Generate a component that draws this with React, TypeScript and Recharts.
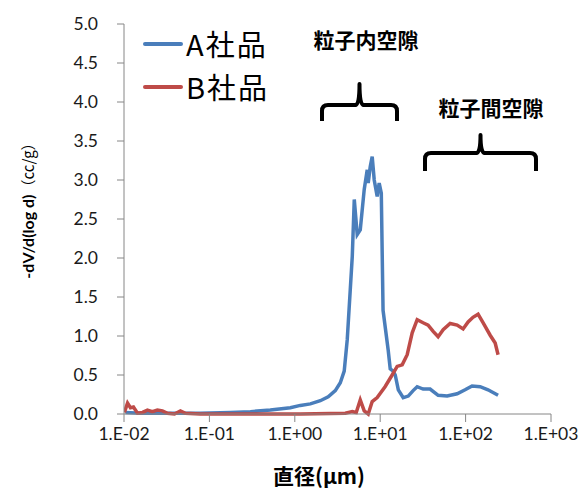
import { LineChart, Line, XAxis, YAxis, Legend } from 'recharts';

// pore size distribution, diameter in µm
const aDiameter = [0.0104, 0.0156, 0.035, 0.0785, 0.176, 0.302, 0.517, 0.886, 1.16, 1.52, 1.99, 2.46, 2.98, 3.41, 3.79, 4.11, 4.46, 4.71, 4.97, 5.38, 5.84, 6.5, 7.05, 7.24, 7.64, 8.06, 8.51, 9.22, 9.73, 10.3, 10.8, 12.4, 13.1, 14.2, 15.0, 16.3, 18.6, 21.3, 24.3, 27.1, 31.8, 38.4, 47.7, 60.8, 79.6, 98.7, 119, 148, 183, 240];
const aValue = [0.02, 0.01, 0.01, 0.01, 0.02, 0.03, 0.05, 0.08, 0.11, 0.13, 0.17, 0.22, 0.3, 0.4, 0.55, 0.95, 1.59, 2.02, 2.75, 2.3, 2.36, 2.88, 3.13, 2.96, 3.17, 3.3, 3.0, 2.79, 2.96, 2.83, 1.33, 0.82, 0.58, 0.55, 0.5, 0.31, 0.21, 0.23, 0.3, 0.35, 0.32, 0.32, 0.24, 0.23, 0.26, 0.31, 0.36, 0.35, 0.31, 0.24];

const bDiameter = [0.0101, 0.011, 0.0119, 0.0129, 0.0144, 0.0165, 0.0188, 0.0215, 0.0246, 0.0282, 0.0323, 0.039, 0.0458, 0.0524, 0.0785, 0.302, 1.16, 3.9, 4.71, 5.24, 5.84, 6.5, 7.24, 8.06, 9.22, 11.4, 13.8, 15.8, 18.1, 20.7, 23.7, 27.1, 31.8, 36.4, 41.7, 47.7, 54.6, 65.9, 79.6, 93.5, 107, 122, 140, 160, 194, 222, 240];
const bValue = [0.02, 0.14, 0.08, 0.09, 0.01, 0.02, 0.05, 0.03, 0.05, 0.04, 0.01, 0.0, 0.04, 0.01, 0.0, 0.0, 0.0, 0.01, 0.03, 0.02, 0.18, 0.04, 0.0, 0.16, 0.21, 0.35, 0.5, 0.61, 0.63, 0.76, 1.04, 1.21, 1.17, 1.14, 1.06, 0.99, 1.08, 1.16, 1.14, 1.09, 1.18, 1.24, 1.28, 1.17, 1.01, 0.91, 0.76];

const xTicks = [0.01, 0.1, 1, 10, 100, 1000];
const yTicks = [0, 0.5, 1, 1.5, 2, 2.5, 3, 3.5, 4, 4.5, 5];

const seriesA = aDiameter.map((d, i) => ({ d, v: aValue[i] }));
const seriesB = bDiameter.map((d, i) => ({ d, v: bValue[i] }));

const BLUE = '#4a7ebb';
const RED = '#be4b48';
const AXIS = '#868686';
const TICK_FONT = 'Lato, "Liberation Sans", sans-serif';
const JP_FONT = '"Noto Sans CJK JP", "Noto Sans", sans-serif';

const formatExp = (v: number) => {
  const e = Math.round(Math.log10(v));
  const s = String(Math.abs(e)).padStart(2, '0');
  return `1.E${e < 0 ? '-' : '+'}${s}`;
};

function LegendBox({ payload }: any) {
  return (
    <div>
      {(payload ?? []).map((p: any) => (
        <div key={p.value} style={{ display: 'flex', alignItems: 'center', height: 43 }}>
          <svg width={40} height={10}>
            <line x1={2} y1={5} x2={38} y2={5} stroke={p.color} strokeWidth={4} strokeLinecap="round" />
          </svg>
          <span style={{ fontFamily: JP_FONT, fontSize: 29, letterSpacing: 2, color: '#000', marginLeft: 3, lineHeight: 1 }}>{p.value}</span>
        </div>
      ))}
    </div>
  );
}

// brace: horizontal bar with a spike up in the middle and ends bent down
function Brace({ x1, x2, y, spike, drop }: { x1: number; x2: number; y: number; spike: number; drop: number }) {
  const mid = (x1 + x2) / 2;
  const r = 6;
  const d = `M${x1},${y + drop} L${x1},${y + r} Q${x1},${y} ${x1 + r},${y} L${mid - 4},${y} Q${mid},${y} ${mid},${y - spike} Q${mid},${y} ${mid + 4},${y} L${x2 - r},${y} Q${x2},${y} ${x2},${y + r} L${x2},${y + drop}`;
  return <path d={d} fill="none" stroke="#000" strokeWidth={4} strokeLinejoin="round" />;
}

export default function App() {
  return (
    <div style={{ position: 'fixed', left: 0, top: 0, width: 584, height: 489, background: '#fff' }}>
      <LineChart width={584} height={489} margin={{ top: 24, right: 33, left: 0, bottom: 0 }}>
        <XAxis
          type="number"
          dataKey="d"
          scale="log"
          domain={[0.01, 1000]}
          ticks={xTicks}
          allowDataOverflow
          height={75}
          tickFormatter={formatExp}
          stroke={AXIS}
          tickSize={8}
          tickMargin={6}
          tick={{ fill: '#1a1a1a', fontSize: 17.5, fontFamily: TICK_FONT }}
        />
        <YAxis
          type="number"
          domain={[0, 5]}
          ticks={yTicks}
          width={124}
          tickFormatter={(v: number) => v.toFixed(1)}
          stroke={AXIS}
          tickSize={7}
          tickMargin={19}
          tick={{ fill: '#1a1a1a', fontSize: 17.5, fontFamily: TICK_FONT }}
        />
        <Legend
          verticalAlign="middle"
          align="center"
          layout="vertical"
          content={<LegendBox />}
          wrapperStyle={{ position: 'absolute', left: 143, top: 22, width: 220 }}
        />
        <Line data={seriesA} dataKey="v" name="A社品" stroke={BLUE} strokeWidth={3.5} dot={false} isAnimationActive={false} />
        <Line data={seriesB} dataKey="v" name="B社品" stroke={RED} strokeWidth={3.5} dot={false} isAnimationActive={false} />

        <text x={366} y={48} textAnchor="middle" fontFamily={JP_FONT} fontSize={21} fontWeight="bold" fill="#000">粒子内空隙</text>
        <Brace x1={322} x2={397} y={105} spike={21} drop={16} />
        <text x={491} y={116} textAnchor="middle" fontFamily={JP_FONT} fontSize={21} fontWeight="bold" fill="#000">粒子間空隙</text>
        <Brace x1={425} x2={536} y={153} spike={18} drop={18} />

        <text x={319} y={484} textAnchor="middle" fontFamily={JP_FONT} fontSize={21} fontWeight="bold" fill="#000">直径(μm)</text>
        <text transform="translate(34,207) rotate(-90)" textAnchor="middle" fill="#000">
          <tspan fontFamily={TICK_FONT} fontSize={16} fontWeight="bold">-dV/d(log d)</tspan>
          <tspan fontFamily={JP_FONT} fontSize={15}>（cc/g）</tspan>
        </text>
      </LineChart>
    </div>
  );
}
